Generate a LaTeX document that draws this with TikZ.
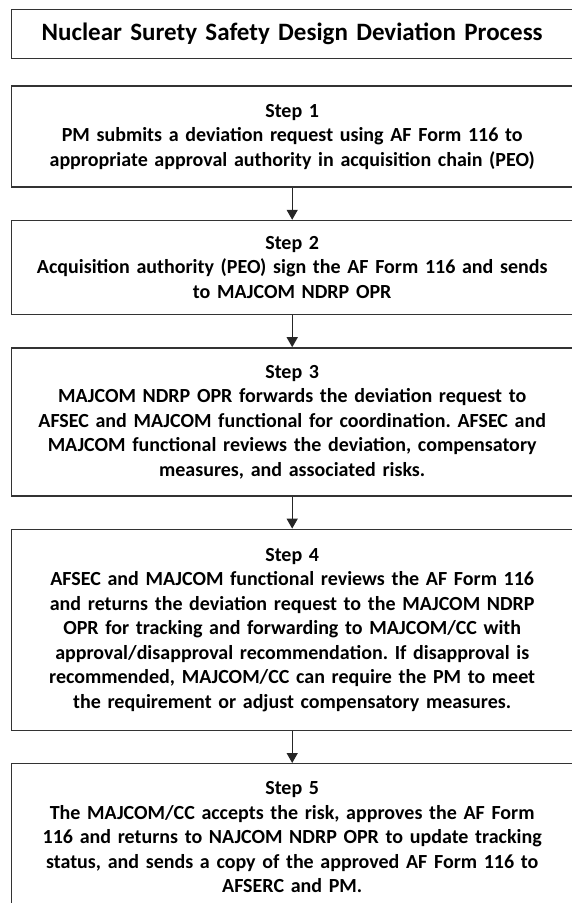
\documentclass[tikz,border=0pt]{standalone}
\usepackage{fontspec}
\setmainfont{Carlito}
\usetikzlibrary{positioning,arrows.meta}
\frenchspacing

\newcommand\devtitlestyle{\fontsize{25}{28}\selectfont\bfseries}
\newcommand\devstepstyle{\fontsize{20}{24.5}\selectfont\bfseries}
\newcommand\devboxwidth{561pt}
\newcommand\devgap{32pt}
\tikzset{
  devbox/.style={draw=black!80, line width=1.4pt, minimum width=\devboxwidth,
    text width=558pt, align=center, inner sep=0pt, minimum height=#1, font=\devstepstyle},
  devarrow/.style={draw=black!85, line width=1.4pt, -{Triangle[width=11pt,length=10pt]}}
}

\begin{document}
\begin{tikzpicture}
  \useasboundingbox (0,0) rectangle (571pt,-903pt);
  \node[devbox=49pt, font=\devtitlestyle, anchor=north west] (title) at (11pt,-9pt)
    {Nuclear Surety Safety Design Deviation Process};
  \node[devbox=101pt, below=26pt of title] (s1)
    {Step 1\\
     PM submits a deviation request using AF Form 116 to\\
     appropriate approval authority in acquisition chain (PEO)};
  \node[devbox=94pt, below=\devgap of s1] (s2)
    {Step 2\\
     Acquisition authority (PEO) sign the AF Form 116 and sends\\
     to MAJCOM NDRP OPR};
  \node[devbox=148pt, below=\devgap of s2] (s3)
    {Step 3\\
     MAJCOM NDRP OPR forwards the deviation request to\\
     AFSEC and MAJCOM functional for coordination. AFSEC and\\
     MAJCOM functional reviews the deviation, compensatory\\
     measures, and associated risks.};
  \node[devbox=201pt, below=\devgap of s3] (s4)
    {Step 4\\
     AFSEC and MAJCOM functional reviews the AF Form 116\\
     and returns the deviation request to the MAJCOM NDRP\\
     OPR for tracking and forwarding to MAJCOM/CC with\\
     approval/disapproval recommendation. If disapproval is\\
     recommended, MAJCOM/CC can require the PM to meet\\
     the requirement or adjust compensatory measures.};
  \node[devbox=147.5pt, below=\devgap of s4] (s5)
    {Step 5\\
     The MAJCOM/CC accepts the risk, approves the AF Form\\
     116 and returns to NAJCOM NDRP OPR to update tracking\\
     status, and sends a copy of the approved AF Form 116 to\\
     AFSERC and PM.};
  \draw[devarrow] (s1) -- (s2);
  \draw[devarrow] (s2) -- (s3);
  \draw[devarrow] (s3) -- (s4);
  \draw[devarrow] (s4) -- (s5);
\end{tikzpicture}
\end{document}
